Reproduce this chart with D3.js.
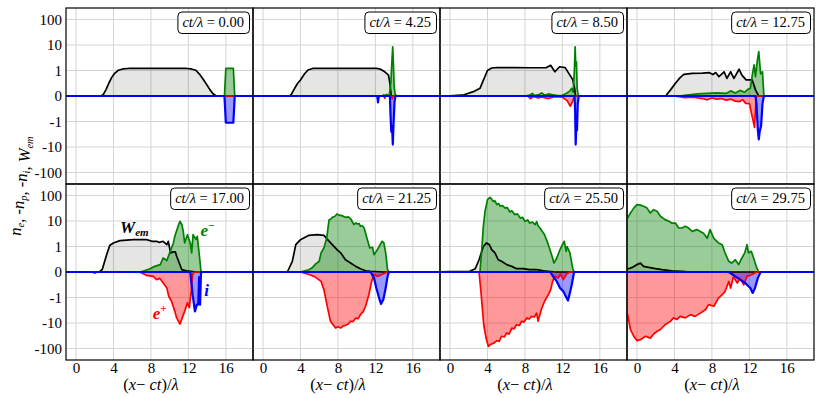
<!DOCTYPE html>
<html>
<head>
<meta charset="utf-8">
<script src="https://cdn.jsdelivr.net/npm/d3@7"></script>
<style>
  body { margin: 0; background: #fff; }
  text { font-family: "Liberation Serif", "DejaVu Serif", serif; }
</style>
</head>
<body>
<div id="chart"></div>
<script>
// time of each snapshot (ct/lambda)
const times = ['0.00', '4.25', '8.50', '12.75', '17.00', '21.25', '25.50', '29.75']
const xTicks = [0, 4, 8, 12, 16]
const yTicks = [-100, -10, -1, 0, 1, 10, 100]
const yTickLabels = ['-100', '-10', '-1', '0', '1', '10', '100']

// W_em, n_e, -n_p, -n_i  as [x, value]
const wem0 = [[-1.3,0],[2.6,0],[2.9,0.05],[3.2,0.25],[3.5,0.5],[3.8,0.72],[4.1,0.88],[4.5,1.02],[5.0,1.15],[5.6,1.2],[11.8,1.2],[12.3,1.15],[12.8,1.02],[13.2,0.85],[13.6,0.65],[14.0,0.42],[14.3,0.25],[14.6,0.1],[14.9,0.02],[15.2,0],[19.5,0]]
const ele0 = [[-1.3,0],[15.85,0],[16.0,1.2],[16.8,1.2],[16.95,0],[19.5,0]]
const pos0 = [[-1.3,0],[19.5,0]]
const ion0 = [[-1.3,0],[15.85,0],[16.0,-1.12],[16.8,-1.12],[16.95,0],[19.5,0]]

const wem1 = [[-1.3,0],[2.8,0],[3.0,0.05],[3.3,0.25],[3.7,0.5],[4.0,0.63],[4.4,0.85],[4.8,1.05],[5.3,1.2],[6.0,1.22],[12.2,1.2],[12.6,1.1],[13.0,0.95],[13.4,0.82],[13.55,0.5],[13.7,0],[19.5,0]]
const ele1 = [[-1.3,0],[12.8,0],[12.9,0.05],[13.0,0],[13.2,0.06],[13.3,0],[13.5,0.08],[13.65,0.5],[13.78,3],[13.85,8.5],[13.92,2],[14.0,0.4],[14.1,0.08],[14.3,0],[19.5,0]]
const pos1 = [[-1.3,0],[12.9,0],[13.0,-0.08],[13.1,0],[13.7,0],[13.8,-0.12],[13.9,0],[19.5,0]]
const ion1 = [[-1.3,0],[12.2,0],[12.28,-0.25],[12.36,0],[13.55,0],[13.62,-0.8],[13.7,-2.5],[13.78,-1.5],[13.86,-8],[13.94,-1.2],[14.05,-0.2],[14.15,0],[19.5,0]]

const wem2 = [[-1.3,0],[0,0.01],[1.5,0.05],[2.5,0.17],[3.2,0.3],[3.6,0.65],[4.0,1.0],[4.45,1.25],[5.0,1.3],[7.0,1.3],[8.5,1.28],[10.3,1.3],[10.75,1.6],[11.2,0.95],[11.7,1.4],[12.3,1.3],[12.8,0.82],[13.1,0.65],[13.3,0.3],[13.4,0],[19.5,0]]
const ele2 = [[-1.3,0],[8.0,0],[8.5,0.04],[8.8,0.1],[9.0,0.02],[9.5,0.06],[9.8,0.12],[10.1,0.03],[10.5,0.08],[11.0,0.05],[11.5,0.02],[12.0,0.03],[12.4,0.1],[12.8,0.2],[13.0,0.3],[13.15,0.15],[13.28,1],[13.36,8.5],[13.43,1.5],[13.5,2.2],[13.58,0.3],[13.7,0],[19.5,0]]
const pos2 = [[-1.3,0],[8.3,0],[8.6,-0.1],[8.9,-0.02],[9.4,-0.08],[9.8,-0.04],[10.5,-0.1],[11.2,-0.03],[12.0,-0.05],[12.5,-0.18],[12.85,-0.4],[13.1,-0.2],[13.3,0],[19.5,0]]
const ion2 = [[-1.3,0],[13.3,0],[13.36,-0.6],[13.42,-8],[13.48,-1.8],[13.56,-2.2],[13.64,-0.3],[13.75,0],[19.5,0]]

const wem3 = [[-1.3,0],[2.9,0],[3.1,0.02],[3.6,0.25],[4.1,0.5],[4.6,0.72],[5.0,0.85],[5.9,0.89],[7.0,0.9],[7.7,0.92],[8.1,0.84],[8.4,0.92],[8.75,0.76],[9.3,0.95],[9.6,0.69],[10.0,0.95],[10.35,0.69],[10.9,1.12],[11.2,0.82],[11.65,0.63],[12.3,0.63],[12.65,0.24],[13.0,0],[19.5,0]]
const ele3 = [[-1.3,0],[4.5,0],[5.5,0.05],[6.5,0.08],[7.5,0.1],[8.5,0.12],[9.5,0.1],[10.0,0.2],[10.5,0.12],[11.0,0.22],[11.5,0.15],[11.8,0.25],[12.1,0.3],[12.3,0.8],[12.5,1.65],[12.65,0.76],[12.85,2.5],[13.0,5.5],[13.2,0.87],[13.4,0.95],[13.55,0],[19.5,0]]
const pos3 = [[-1.3,0],[4.0,0],[5.0,-0.06],[6.0,-0.05],[7.0,-0.1],[7.5,-0.15],[8.0,-0.08],[8.5,-0.12],[9.0,-0.1],[9.5,-0.16],[10.0,-0.12],[10.5,-0.2],[10.9,-0.22],[11.3,-0.15],[11.6,-0.29],[12.0,-0.3],[12.3,-0.81],[12.55,-1.7],[12.65,-0.5],[12.75,0],[19.5,0]]
const ion3 = [[-1.3,0],[12.65,0],[12.75,-0.3],[12.9,-2],[13.0,-5],[13.1,-2.5],[13.25,-1.5],[13.4,-0.3],[13.55,0],[19.5,0]]

const wem4 = [[-1.3,0],[2.5,0],[2.8,0.1],[3.27,0.68],[3.6,1.1],[3.98,1.37],[4.7,1.7],[6.1,1.85],[7.55,1.85],[8.1,1.6],[8.6,1.6],[8.9,1.45],[9.3,1.6],[9.7,1.18],[9.85,1.6],[10.1,0.75],[10.4,0.79],[10.6,0.79],[10.75,0.62],[11.3,0.09],[11.8,0.05],[12.9,0],[19.5,0]]
const ele4 = [[-1.3,0],[6.8,0],[7.3,0.05],[7.9,0.13],[8.4,0.22],[9.0,0.29],[9.3,0.55],[9.7,0.45],[10.0,0.75],[10.4,1.38],[10.55,2.5],[10.9,6.2],[11.1,9.7],[11.3,7.3],[11.45,4],[11.6,1.38],[11.9,2.9],[12.2,1.38],[12.35,0.75],[12.5,2.9],[12.8,1.9],[12.95,2.5],[13.2,0.55],[13.35,0],[19.5,0]]
const pos4 = [[-1.3,0],[6.8,0],[7.5,-0.13],[8.25,-0.17],[8.6,-0.3],[8.95,-0.25],[9.3,-0.43],[9.7,-0.63],[9.9,-0.95],[10.2,-1.4],[10.55,-3.5],[10.75,-6.3],[11.1,-11],[11.4,-5.5],[11.6,-3.5],[11.9,-1.6],[12.1,-2.5],[12.3,-0.76],[12.45,-0.12],[12.6,0],[19.5,0]]
const ion4 = [[-1.3,0],[1.8,0],[2.0,-0.03],[2.2,0],[12.2,0],[12.45,-0.89],[12.7,-3.5],[12.9,-1.9],[13.05,-1.9],[13.15,-0.2],[13.25,-1.9],[13.35,0],[19.5,0]]

const wem5 = [[-1.3,0],[2.6,0],[3.13,0.42],[3.5,1.18],[4.0,1.85],[4.9,2.75],[5.8,2.9],[6.5,2.75],[6.9,1.85],[7.4,1.18],[7.9,0.88],[8.3,0.75],[8.8,0.48],[9.35,0.35],[9.9,0.22],[10.4,0.13],[10.95,0.05],[11.5,0.03],[12.9,0],[19.5,0]]
const ele5 = [[-1.3,0],[4.0,0],[4.9,0.09],[5.3,0.18],[5.6,0.31],[6.0,0.42],[6.2,0.75],[6.5,0.94],[6.8,2.1],[7.05,11],[7.25,12],[7.4,13.9],[7.65,15],[7.9,18.8],[8.1,17],[8.3,16.6],[8.55,15.5],[8.8,13.9],[9.1,14.5],[9.35,12.3],[9.5,10],[9.7,7.2],[9.9,8.4],[10.07,7.6],[10.25,8],[10.4,6.2],[10.6,6.5],[10.8,5.3],[11.1,2.1],[11.4,0.94],[11.7,0.97],[11.85,0.68],[12.1,0.81],[12.4,1.0],[12.7,1.6],[12.9,1.4],[13.1,0.75],[13.3,0.09],[13.45,0],[19.5,0]]
const pos5 = [[-1.3,0],[4.0,0],[4.9,-0.1],[5.45,-0.17],[5.8,-0.26],[6.2,-0.37],[6.5,-0.69],[6.9,-2.6],[7.2,-8.5],[7.5,-12],[7.75,-15.7],[8.0,-14],[8.3,-15.7],[8.55,-13],[8.8,-12.3],[9.1,-11],[9.35,-8.5],[9.6,-8.8],[9.9,-6.4],[10.15,-6.8],[10.4,-4.7],[10.7,-3.6],[10.95,-2.2],[11.3,-0.89],[11.6,-0.37],[11.85,-0.1],[12.2,-0.17],[12.7,-0.1],[13.3,0],[19.5,0]]
const ion5 = [[-1.3,0],[11.5,0],[11.85,-0.24],[12.1,-0.63],[12.4,-1.05],[12.6,-1.8],[12.85,-1.2],[13.1,-0.63],[13.3,-0.17],[13.45,0],[19.5,0]]

const wem6 = [[-1.3,0],[0,0.02],[2.1,0.03],[2.7,0.13],[3.1,0.48],[3.56,1.0],[3.9,1.38],[4.2,1.18],[4.45,0.88],[4.8,0.75],[5.15,0.48],[5.5,0.42],[6.05,0.29],[6.6,0.22],[7.1,0.13],[7.8,0.13],[8.5,0.09],[9.25,0.09],[10,0.05],[11,0.01],[11.5,0],[19.5,0]]
const ele6 = [[-1.3,0],[3.2,0],[3.4,0.94],[3.56,6.2],[3.74,24],[4.0,69],[4.27,85],[4.45,72],[4.6,59],[4.8,62],[5.0,44],[5.2,48],[5.35,38],[5.6,40],[5.9,32],[6.1,34],[6.4,22.5],[6.6,25],[6.9,17.8],[7.2,19],[7.5,13],[7.75,14],[8.0,9.7],[8.3,11],[8.5,8.3],[8.8,9],[9.1,7.2],[9.25,9.5],[9.4,6.5],[9.6,5.3],[10.1,2.9],[10.5,1.18],[10.85,0.68],[11.1,0.35],[11.4,0.55],[11.75,0.88],[12.0,1.18],[12.2,1.6],[12.4,0.81],[12.5,1.0],[12.8,0.75],[13.1,0.15],[13.25,0],[19.5,0]]
const pos6 = [[-1.3,0],[3.1,0],[3.3,-0.76],[3.45,-2.6],[3.6,-11.7],[3.85,-39],[4.1,-83],[4.3,-70],[4.45,-66],[4.7,-60],[5.0,-49],[5.25,-52],[5.5,-33],[5.8,-35],[6.05,-24.5],[6.3,-27],[6.6,-15.8],[6.85,-17],[7.1,-11.7],[7.4,-12.5],[7.65,-8.5],[7.9,-9.2],[8.2,-6.3],[8.45,-7],[8.7,-5.5],[9.0,-5.8],[9.25,-4.1],[9.4,-8.5],[9.8,-2.6],[10.1,-1.4],[10.5,-0.89],[10.75,-0.69],[10.95,-0.37],[11.2,-0.17],[11.55,-0.24],[11.8,-0.08],[12.1,-0.3],[12.45,-0.08],[12.8,0],[19.5,0]]
const ion6 = [[-1.3,0],[10.7,0],[11.0,-0.17],[11.4,-0.37],[11.75,-0.63],[12.1,-0.76],[12.45,-1.05],[12.6,-1.32],[12.8,-0.82],[13.0,-0.5],[13.25,0],[19.5,0]]

const wem7 = [[-1.3,0.12],[-0.9,0.13],[-0.5,0.18],[0,0.29],[0.36,0.35],[0.7,0.22],[1.25,0.18],[1.96,0.13],[2.67,0.09],[3.7,0.05],[5.2,0.02],[7,0.01],[8,0],[19.5,0]]
const ele7 = [[-1.3,9],[-1.0,13.2],[-0.7,20.6],[-0.35,32],[0,44],[0.36,42],[0.7,38],[1.07,32],[1.42,20.6],[1.78,27.7],[2.14,24],[2.5,15.3],[3.0,11.3],[3.4,9.7],[3.7,8.3],[4.1,8.3],[4.45,5.3],[4.8,5.3],[5.16,6.2],[5.5,5.3],[5.9,3.9],[6.4,4.6],[6.76,3.9],[7.1,3.3],[7.5,2.1],[7.8,4.6],[8.2,2.1],[8.7,1.38],[9.1,1.18],[9.4,0.75],[9.8,0.42],[10.1,0.35],[10.5,0.48],[10.85,0.29],[11.2,0.55],[11.5,0.75],[11.75,1.18],[11.9,0.75],[12.2,0.81],[12.45,0.55],[12.8,0.15],[13.0,0],[19.5,0]]
const pos7 = [[-1.3,-3],[-1.0,-4.7],[-0.7,-18],[-0.35,-33],[0,-49],[0.36,-45],[0.9,-33],[1.42,-39],[1.78,-27],[2.14,-21],[2.5,-18],[3.0,-11.7],[3.56,-8.6],[3.9,-6.3],[4.27,-7.2],[4.6,-5.5],[5.16,-6.3],[5.7,-4.7],[6.2,-5.5],[6.76,-4.1],[7.3,-3.0],[7.65,-1.9],[8.2,-2.2],[8.7,-1.05],[9.1,-0.89],[9.4,-0.76],[9.8,-0.37],[10.0,-0.63],[10.3,-0.17],[10.7,-0.43],[11.0,-0.24],[11.4,-0.5],[11.75,-0.17],[12.3,-0.1],[12.8,0],[19.5,0]]
const ion7 = [[-1.3,0],[9.8,0],[10.5,-0.17],[11.0,-0.3],[11.55,-0.43],[12.1,-0.63],[12.35,-0.82],[12.6,-0.63],[12.9,-0.24],[13.2,0],[19.5,0]]

const wem = [wem0, wem1, wem2, wem3, wem4, wem5, wem6, wem7]
const ele = [ele0, ele1, ele2, ele3, ele4, ele5, ele6, ele7]
const pos = [pos0, pos1, pos2, pos3, pos4, pos5, pos6, pos7]
const ion = [ion0, ion1, ion2, ion3, ion4, ion5, ion6, ion7]

const width = 831, height = 398
const margin = { left: 66, top: 8 }
const panelW = 187, panelH = 176

const svg = d3.select('#chart').append('svg')
  .attr('width', width)
  .attr('height', height)

const x = d3.scaleLinear().domain([-1.07, 18.9]).range([0, panelW])
// symlog (linear inside |v|<1, log outside) -> linear scale
const t = d3.scaleLinear().domain([-3.45, 3.45]).range([panelH, 0])
const tr = v => Math.abs(v) <= 1 ? v : Math.sign(v) * (1 + Math.log10(Math.abs(v)))
const y = v => t(tr(v))

const series = [
  { data: wem, color: '#000', fill: '#000', op: 0.1, lw: 1.7 },
  { data: ele, color: 'green', fill: 'green', op: 0.4, lw: 1.7 },
  { data: pos, color: 'red', fill: 'red', op: 0.4, lw: 1.7 },
  { data: ion, color: 'blue', fill: 'blue', op: 0.4, lw: 2.2 }
]

const area = d3.area().x(d => x(d[0])).y0(y(0)).y1(d => y(d[1]))
const line = d3.line().x(d => x(d[0])).y(d => y(d[1]))

times.forEach((ct, i) => {
  const col = i % 4, row = Math.floor(i / 4)
  const g = svg.append('g')
    .attr('transform', `translate(${margin.left + col * panelW}, ${margin.top + row * panelH})`)

  g.append('clipPath').attr('id', 'clip' + i)
    .append('rect').attr('width', panelW).attr('height', panelH)

  // grid
  g.append('g').selectAll('line').data(xTicks).join('line')
    .attr('x1', d => x(d)).attr('x2', d => x(d))
    .attr('y1', 0).attr('y2', panelH)
    .attr('stroke', '#d4d4d4').attr('stroke-width', 1)
  g.append('g').selectAll('line').data(yTicks).join('line')
    .attr('x1', 0).attr('x2', panelW)
    .attr('y1', d => y(d)).attr('y2', d => y(d))
    .attr('stroke', '#d4d4d4').attr('stroke-width', 1)

  const plot = g.append('g').attr('clip-path', `url(#clip${i})`)
  series.forEach(s => {
    plot.append('path').datum(s.data[i])
      .attr('d', area)
      .attr('fill', s.fill)
      .attr('fill-opacity', s.op)
  })
  series.forEach(s => {
    plot.append('path').datum(s.data[i])
      .attr('d', line)
      .attr('fill', 'none')
      .attr('stroke', s.color)
      .attr('stroke-width', s.lw)
      .attr('stroke-linejoin', 'round')
  })

  g.append('rect')
    .attr('width', panelW).attr('height', panelH)
    .attr('fill', 'none').attr('stroke', '#000').attr('stroke-width', 1.2)

  // time label box
  const lab = g.append('text')
    .attr('y', 18.5)
    .attr('font-size', 14.5)
  lab.append('tspan').attr('font-style', 'italic').text('ct/λ')
  lab.append('tspan').text(' = ' + ct)
  const w = lab.node().getComputedTextLength()
  lab.attr('x', panelW - 9 - w)
  g.insert('rect', 'text')
    .attr('x', panelW - 13.5 - w).attr('y', 4)
    .attr('width', w + 10).attr('height', 21.5)
    .attr('rx', 4)
    .attr('fill', '#fff').attr('stroke', '#000').attr('stroke-width', 1)

  if (col === 0) {
    g.append('g')
      .call(d3.axisLeft(t).tickValues(yTicks.map(tr)).tickSize(0).tickPadding(4)
        .tickFormat((d, k) => yTickLabels[k]))
      .call(a => a.select('.domain').remove())
      .attr('font-size', 15)
      .attr('font-family', '"Liberation Serif", serif')
  }
  if (row === 1) {
    g.append('g')
      .attr('transform', `translate(0, ${panelH})`)
      .call(d3.axisBottom(x).tickValues(xTicks).tickSize(0).tickPadding(2))
      .call(a => a.select('.domain').remove())
      .attr('font-size', 15)
      .attr('font-family', '"Liberation Serif", serif')

    const xl = g.append('text')
      .attr('x', 85).attr('y', panelH + 30)
      .attr('text-anchor', 'middle')
      .attr('font-size', 16.5)
    xl.append('tspan').text('(')
    xl.append('tspan').attr('font-style', 'italic').text('x')
    xl.append('tspan').text('− ')
    xl.append('tspan').attr('font-style', 'italic').text('ct')
    xl.append('tspan').text(')/')
    xl.append('tspan').attr('font-style', 'italic').text('λ')
  }

  // species labels on the first lower panel
  if (i === 4) {
    const ann = (xv, yv, color) => g.append('text')
      .attr('x', x(xv)).attr('y', y(yv))
      .attr('fill', color)
      .attr('font-style', 'italic').attr('font-weight', 'bold')
      .attr('font-size', 17)
    const wl = ann(4.7, 3.3, '#000')
    wl.append('tspan').text('W')
    wl.append('tspan').attr('font-size', 11).attr('dy', 3).text('em')
    const el = ann(13.3, 2.5, 'green')
    el.append('tspan').text('e')
    el.append('tspan').attr('font-size', 11).attr('dy', -7).text('−')
    const pl = ann(8.2, -6.8, 'red')
    pl.append('tspan').text('e')
    pl.append('tspan').attr('font-size', 11).attr('dy', -7).text('+')
    ann(13.7, -0.96, 'blue').text('i')
  }
})

// y label
const yl = svg.append('text')
  .attr('transform', 'translate(21, 186) rotate(-90)')
  .attr('text-anchor', 'middle')
  .attr('font-size', 16.5)
  .attr('font-style', 'italic')
const sub = (s, main, small) => {
  s.append('tspan').text(main)
  s.append('tspan').attr('font-size', 10.5).attr('dy', 3).text(small)
  s.append('tspan').attr('dy', -3).text('')
}
sub(yl, 'n', 'e')
yl.append('tspan').attr('font-style', 'normal').text(', -')
sub(yl, 'n', 'p')
yl.append('tspan').attr('font-style', 'normal').text(', -')
sub(yl, 'n', 'i')
yl.append('tspan').attr('font-style', 'normal').text(', ')
sub(yl, 'W', 'em')
</script>
</body>
</html>
